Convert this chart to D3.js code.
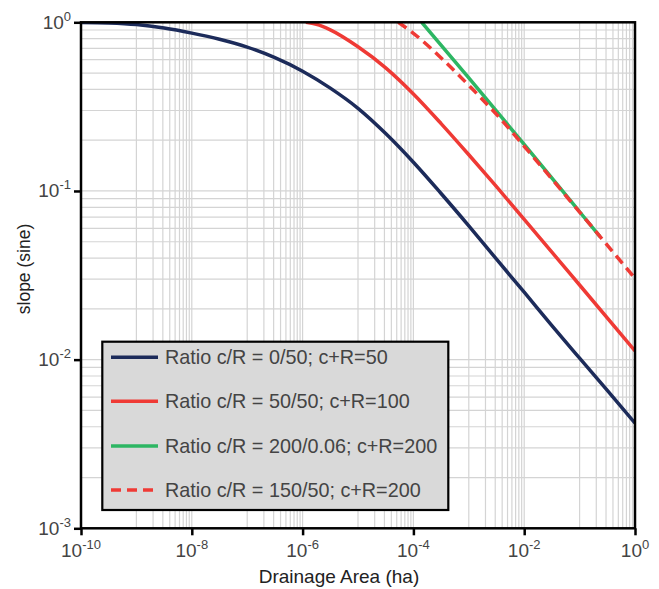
<!DOCTYPE html>
<html>
<head>
<meta charset="utf-8">
<script src="https://cdn.jsdelivr.net/npm/d3@7"></script>
<style>
  body { margin: 0; background: #fff; }
  text { font-family: "Liberation Sans", Arial, Helvetica, sans-serif; }
</style>
</head>
<body>
<div id="chart"></div>
<script>
// log10 of drainage area (ha) and slope (sine)
var blueA = [-10, -9.5, -9, -8.5, -8, -7.5, -7, -6.5, -6, -5.5, -5, -4.5, -4, -3.5, -3, -2.5, -2, -1.5, -1, -0.5, 0];
var blueS = [0.998, 0.991, 0.970, 0.925, 0.863, 0.794, 0.713, 0.617, 0.513, 0.407, 0.309, 0.219, 0.148, 0.0966, 0.0621, 0.0394, 0.0251, 0.0159, 0.0102, 0.00657, 0.0042];

var redA = [-5.94, -5.75, -5.5, -5, -4.5, -4, -3.5, -3, -2.5, -2, -1, 0];
var redS = [1.0, 0.973, 0.902, 0.716, 0.537, 0.376, 0.251, 0.164, 0.106, 0.0679, 0.0277, 0.01127];

var greenA = [-3.85, -3, -2, -1, -0.632];
var greenS = [1.0, 0.468, 0.189, 0.0753, 0.0536];

var dashA = [-4.273, -4, -3.46, -2.948, -2.437, -2, -1, 0];
var dashS = [1.0, 0.861, 0.598, 0.406, 0.27, 0.184, 0.075, 0.0303];

var legendLabels = ["Ratio c/R = 0/50; c+R=50", "Ratio c/R = 50/50; c+R=100",
                    "Ratio c/R = 200/0.06; c+R=200", "Ratio c/R = 150/50; c+R=200"];
var xTickExp = [-10, -8, -6, -4, -2, 0];
var yTickExp = [-3, -2, -1, 0];

function init(){
    var w = 659, h = 589;
    var left = 81, right = 635, top = 22.3, bottom = 528.3;

    var xScale = d3.scaleLog().domain([1e-10, 1]).range([left, right]);
    var yScale = d3.scaleLog().domain([1e-3, 1]).range([bottom, top]);

    var svg = d3.select("#chart").append("svg")
        .attr("width", w).attr("height", h);

    // grid: vertical minor lines k*10^odd, horizontal normal log minors
    var xGrid = [];
    [-9, -7, -5, -3, -1].forEach(function(e){
        for (var k = 1; k <= 10; k++) xGrid.push(k * Math.pow(10, e));
    });
    var yGrid = [];
    [-3, -2, -1].forEach(function(e){
        for (var k = 1; k <= 9; k++) yGrid.push(k * Math.pow(10, e));
    });

    svg.append("g").selectAll("line").data(xGrid).enter().append("line")
        .attr("x1", function(d){ return xScale(d); })
        .attr("x2", function(d){ return xScale(d); })
        .attr("y1", top).attr("y2", bottom)
        .attr("stroke", "#d4d4d4").attr("stroke-width", 1.2);
    svg.append("g").selectAll("line").data(yGrid).enter().append("line")
        .attr("y1", function(d){ return yScale(d); })
        .attr("y2", function(d){ return yScale(d); })
        .attr("x1", left).attr("x2", right)
        .attr("stroke", "#d4d4d4").attr("stroke-width", 1.2);

    svg.append("clipPath").attr("id", "clip").append("rect")
        .attr("x", left).attr("y", top).attr("width", right - left).attr("height", bottom - top);

    var line = d3.line()
        .x(function(d){ return xScale(Math.pow(10, d[0])); })
        .y(function(d){ return yScale(d[1]); })
        .curve(d3.curveMonotoneX);

    var series = [
        {a: blueA, s: blueS, color: "#1c2b5a", dash: null},
        {a: redA, s: redS, color: "#ef3a35", dash: null},
        {a: greenA, s: greenS, color: "#2db663", dash: null},
        {a: dashA, s: dashS, color: "#ef3a35", dash: "10,6"}
    ];

    var curves = svg.append("g").attr("clip-path", "url(#clip)");
    series.forEach(function(sr){
        var pts = sr.a.map(function(a, i){ return [a, sr.s[i]]; });
        curves.append("path")
            .attr("d", line(pts))
            .attr("fill", "none")
            .attr("stroke", sr.color)
            .attr("stroke-width", 3.5)
            .attr("stroke-dasharray", sr.dash);
    });

    // frame
    svg.append("rect")
        .attr("x", left).attr("y", top)
        .attr("width", right - left).attr("height", bottom - top)
        .attr("fill", "none").attr("stroke", "#000").attr("stroke-width", 2.5);

    // axes with major ticks
    var xAxis = d3.axisBottom(xScale)
        .tickValues(xTickExp.map(function(e){ return Math.pow(10, e); }))
        .tickSize(7).tickFormat("");
    var yAxis = d3.axisLeft(yScale)
        .tickValues(yTickExp.map(function(e){ return Math.pow(10, e); }))
        .tickSize(7).tickFormat("");
    var gx = svg.append("g").attr("transform", "translate(0," + bottom + ")").call(xAxis);
    var gy = svg.append("g").attr("transform", "translate(" + left + ",0)").call(yAxis);
    [gx, gy].forEach(function(g){
        g.select(".domain").remove();
        g.selectAll(".tick line").attr("stroke", "#000").attr("stroke-width", 2.5);
    });

    var xl = svg.append("g").selectAll("text").data(xTickExp).enter().append("text")
        .attr("x", function(d){ return xScale(Math.pow(10, d)); })
        .attr("y", 557)
        .attr("text-anchor", "middle")
        .attr("fill", "#444")
        .style("font-size", "19px");
    xl.append("tspan").text("10");
    xl.append("tspan").attr("dy", -8).style("font-size", "13px").text(function(d){ return d; });

    var yl = svg.append("g").selectAll("text").data(yTickExp).enter().append("text")
        .attr("x", 71)
        .attr("y", function(d){ return yScale(Math.pow(10, d)) + 6.5; })
        .attr("text-anchor", "end")
        .attr("fill", "#444")
        .style("font-size", "19px");
    yl.append("tspan").text("10");
    yl.append("tspan").attr("dy", -8).style("font-size", "13px").text(function(d){ return d; });

    svg.append("text")
        .attr("x", 339).attr("y", 583)
        .attr("text-anchor", "middle")
        .attr("fill", "#222")
        .style("font-size", "19px")
        .text("Drainage Area (ha)");
    svg.append("text")
        .attr("transform", "translate(30,269) rotate(-90)")
        .attr("text-anchor", "middle")
        .attr("fill", "#222")
        .style("font-size", "17.5px")
        .text("slope (sine)");

    // legend
    var lg = svg.append("g");
    lg.append("rect")
        .attr("x", 102.3).attr("y", 341.7)
        .attr("width", 346).attr("height", 168.3)
        .attr("fill", "#d9d9d9").attr("stroke", "#000").attr("stroke-width", 2.2);
    var rowY = [357.3, 401.3, 446, 490];
    series.forEach(function(sr, i){
        lg.append("line")
            .attr("x1", 111).attr("x2", 158)
            .attr("y1", rowY[i]).attr("y2", rowY[i])
            .attr("stroke", sr.color).attr("stroke-width", 3.5)
            .attr("stroke-dasharray", sr.dash);
        lg.append("text")
            .attr("x", 165).attr("y", rowY[i] + 7)
            .attr("fill", "#444")
            .style("font-size", "19.8px")
            .text(legendLabels[i]);
    });
}
window.onload = init;
</script>
</body>
</html>
